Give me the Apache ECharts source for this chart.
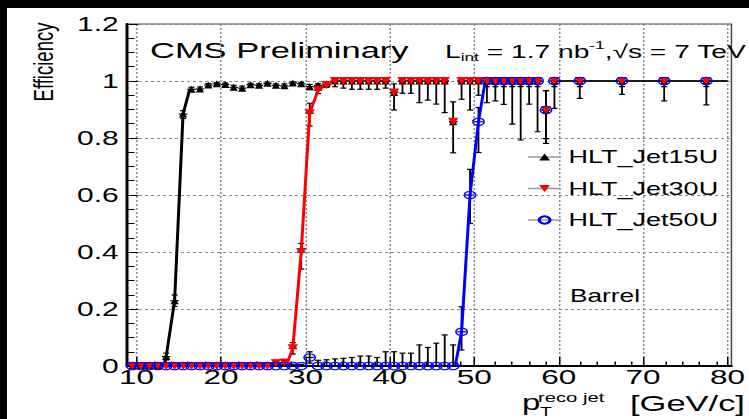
<!DOCTYPE html>
<html>
<head>
<meta charset="utf-8">
<script src="https://cdn.jsdelivr.net/npm/echarts@6/dist/echarts.min.js"></script>
<style>
  html, body { margin: 0; padding: 0; width: 749px; height: 419px; overflow: hidden; background: #000; }
  #chart { position: absolute; left: 7px; top: 8px; height: 411px; background: #fff; transform-origin: 0 0; }
</style>
</head>
<body>
<div id="chart"></div>
<script>
// Bin centres in GeV/c (1 GeV bins up to 60, then 5 GeV bins)
const ptBins = [9.5,10.5,11.5,12.5,13.5,14.5,15.5,16.5,17.5,18.5,19.5,20.5,21.5,22.5,23.5,24.5,25.5,26.5,27.5,28.5,29.5,30.5,31.5,32.5,33.5,34.5,35.5,36.5,37.5,38.5,39.5,40.5,41.5,42.5,43.5,44.5,45.5,46.5,47.5,48.5,49.5,50.5,51.5,52.5,53.5,54.5,55.5,56.5,57.5,58.5,59.5,62.5,67.5,72.5,77.5];
const binHalfWidth = [0.5,0.5,0.5,0.5,0.5,0.5,0.5,0.5,0.5,0.5,0.5,0.5,0.5,0.5,0.5,0.5,0.5,0.5,0.5,0.5,0.5,0.5,0.5,0.5,0.5,0.5,0.5,0.5,0.5,0.5,0.5,0.5,0.5,0.5,0.5,0.5,0.5,0.5,0.5,0.5,0.5,0.5,0.5,0.5,0.5,0.5,0.5,0.5,0.5,0.5,0.5,2.5,2.5,2.5,2.5];

// HLT_Jet15U efficiency and asymmetric errors
const eff15 = [0,0,0,0,0.033,0.229,0.884,0.971,0.972,0.986,0.99,0.988,0.978,0.975,0.987,0.985,0.992,0.985,0.983,0.993,0.99,0.98,0.985,0.99,1,1,1,1,1,1,1,0.96,1,1,1,1,1,1,0.857,1,1,1,1,1,1,1,1,1,1,0.898,1,1,1,1,1];
const errLo15 = [0,0,0,0,0.012,0.02,0.015,0.008,0.008,0.006,0.005,0.006,0.008,0.008,0.006,0.006,0.005,0.006,0.008,0.006,0.007,0.01,0.008,0.007,0.006,0.006,0.006,0.006,0.006,0.006,0.006,0.006,0.006,0.006,0.006,0.006,0.006,0.006,0.006,0.006,0.006,0.006,0.006,0.006,0.006,0.006,0.006,0.006,0.006,0.006,0.006,0.006,0.006,0.006,0.006];
const errHi15 = [0.004,0.004,0.004,0.004,0.012,0.02,0.012,0.007,0.007,0.005,0.004,0.005,0.007,0.007,0.005,0.005,0.004,0.005,0.007,0.004,0.005,0.008,0.006,0.005,0,0,0,0,0,0,0,0,0,0,0,0,0,0,0,0,0,0,0,0,0,0,0,0,0,0,0,0,0,0,0];

// HLT_Jet30U efficiency and asymmetric errors
const eff30 = [0,0,0,0,0,0,0,0,0,0,0,0,0,0,0,0,0,0.01,0.012,0.062,0.40,0.887,0.968,0.986,1,1,1,1,1,1,1,0.96,1,1,1,1,1,1,0.857,1,1,1,1,1,1,1,1,1,1,0.898,1,1,1,1,1];
const errLo30 = [0,0,0,0,0,0,0,0,0,0,0,0,0,0,0,0,0,0.008,0.008,0.02,0.06,0.045,0.012,0.008,0.02,0.025,0.029,0.029,0.029,0.029,0.025,0.062,0.043,0.043,0.076,0.067,0.081,0.111,0.109,0.064,0.102,0.05,0.076,0.07,0.082,0.151,0.207,0.081,0.178,0.117,0.096,0.061,0.047,0.07,0.084];
const errHi30 = [0.004,0.004,0.004,0.004,0.004,0.004,0.004,0.004,0.004,0.004,0.004,0.004,0.004,0.004,0.004,0.004,0.004,0.01,0.01,0.02,0.03,0.035,0.011,0.008,0,0,0,0,0,0,0,0.03,0,0,0,0,0,0,0.07,0,0,0,0,0,0,0,0,0,0,0.068,0,0,0,0,0];

// HLT_Jet50U efficiency and asymmetric errors
const eff50 = [0,0,0,0,0,0,0,0,0,0,0,0,0,0,0,0,0,0,0,0,0,0.03,0,0,0,0,0,0,0,0,0,0,0,0,0,0,0,0,0,0.12,0.60,0.857,1,1,1,1,1,1,1,0.898,1,1,1,1,1];
const errLo50 = [0,0,0,0,0,0,0,0,0,0,0,0,0,0,0,0,0,0,0,0,0,0.02,0,0,0,0,0,0,0,0,0,0,0,0,0,0,0,0,0,0.064,0.10,0.108,0.02,0.02,0.02,0.02,0.02,0.02,0.02,0.1,0.02,0.02,0.02,0.02,0.02];
const errHi50 = [0.006,0.006,0.006,0.006,0.006,0.006,0.006,0.006,0.006,0.006,0.006,0.006,0.006,0.006,0.006,0.006,0.006,0.006,0.006,0.006,0.006,0.02,0.02,0.022,0.025,0.027,0.03,0.035,0.035,0.03,0.05,0.05,0.045,0.045,0.074,0.065,0.08,0.109,0.074,0.088,0.09,0.05,0,0,0,0,0,0,0,0.068,0,0,0,0,0];

// Turn-on fit curves (vertices of the drawn curves)
const fit15X = [13.25, 13.5, 14.5, 15.5, 16.3];
const fit15Y = [0.0, 0.033, 0.229, 0.884, 0.972];
const fit30X = [27.9, 28.5, 29.5, 30.5, 31.5, 32.5, 33.2];
const fit30Y = [0.015, 0.062, 0.40, 0.887, 0.968, 0.986, 1.0];
const fit50X = [47.75, 48.5, 49.5, 50.5, 51.3];
const fit50Y = [0.0, 0.12, 0.60, 0.857, 1.0];

// Axis ticks
const xMajorTicks = [10, 20, 30, 40, 50, 60, 70, 80];
const xMinorTicks = [12,14,16,18,22,24,26,28,32,34,36,38,42,44,46,48,52,54,56,58,62,64,66,68,72,74,76,78];
const X_MIN = 8.86, X_MAX = 80.47;

// The canvas is drawn narrow and stretched horizontally, like the original ROOT output.
const SX = 1.5, OX = 7, OY = 8, PAGE_W = 749, PAGE_H = 419;
const innerW = (PAGE_W - OX) / SX, innerH = PAGE_H - OY;
const px = x => (x - OX) / SX;
const py = y => y - OY;

const el = document.getElementById('chart');
el.style.width = innerW + 'px';
el.style.transform = 'scaleX(' + SX + ')';

const FONT = "'Liberation Sans', Arial, Helvetica, sans-serif";

function errorBarItem(params, api) {
  const x = api.value(0), y = api.value(1), lo = api.value(2), hi = api.value(3), hw = api.value(4);
  const mid = api.coord([x, y]);
  const style = { stroke: '#000', lineWidth: 1.2 };
  const cap = 2;
  const kids = [];
  const l = api.coord([x - hw, y]), r = api.coord([x + hw, y]);
  kids.push({ type: 'line', shape: { x1: l[0], y1: mid[1], x2: r[0], y2: mid[1] }, style });
  if (lo > 0) {
    const b = api.coord([x, y - lo]);
    kids.push({ type: 'line', shape: { x1: mid[0], y1: mid[1], x2: mid[0], y2: b[1] }, style });
    kids.push({ type: 'line', shape: { x1: mid[0] - cap, y1: b[1], x2: mid[0] + cap, y2: b[1] }, style });
  }
  if (hi > 0) {
    const t = api.coord([x, y + hi]);
    kids.push({ type: 'line', shape: { x1: mid[0], y1: mid[1], x2: mid[0], y2: t[1] }, style });
    kids.push({ type: 'line', shape: { x1: mid[0] - cap, y1: t[1], x2: mid[0] + cap, y2: t[1] }, style });
  }
  return { type: 'group', children: kids };
}

function errSeries(eff, lo, hi) {
  return {
    type: 'custom', silent: true, xAxisIndex: 0, yAxisIndex: 0,
    renderItem: errorBarItem,
    encode: { x: 0, y: 1 },
    data: ptBins.map((p, i) => [p, eff[i], lo[i], hi[i], binHalfWidth[i]])
  };
}

function markerSeries(name, eff, symbol, size, itemStyle) {
  return {
    name, type: 'line', silent: true, xAxisIndex: 0, yAxisIndex: 0,
    data: ptBins.map((p, i) => [p, eff[i]]),
    symbol, symbolSize: size, showSymbol: true,
    lineStyle: { opacity: 0 },
    itemStyle
  };
}

function fitSeries(name, xs, ys, color) {
  return {
    name, type: 'line', silent: true, xAxisIndex: 0, yAxisIndex: 0,
    data: xs.map((x, i) => [x, ys[i]]),
    symbol: 'none', showSymbol: false,
    lineStyle: { color, width: 2 }
  };
}

const gridRect = {
  left: px(127), right: innerW - px(737), top: py(24), bottom: innerH - py(366)
};

const chart = echarts.init(el, null, { renderer: 'svg' });
chart.setOption({
  animation: false,
  backgroundColor: 'transparent',
  textStyle: { fontFamily: FONT },
  grid: [
    Object.assign({ show: true, borderColor: '#444', borderWidth: 1, backgroundColor: 'transparent' }, gridRect),
    Object.assign({ show: false }, gridRect)
  ],
  xAxis: [
    {
      type: 'value', gridIndex: 0, min: X_MIN, max: X_MAX, position: 'bottom',
      axisLine: { show: true, onZero: false, lineStyle: { color: '#000', width: 2 } },
      axisTick: { show: true, inside: true, length: 9, customValues: xMajorTicks, lineStyle: { color: '#000', width: 1 } },
      minorTick: { show: false },
      axisLabel: { customValues: xMajorTicks, fontSize: 21, lineHeight: 16, color: '#000', margin: 3, fontFamily: FONT },
      splitLine: { show: true, lineStyle: { color: '#888', width: 1, type: [2, 2] } }
    },
    {
      type: 'value', gridIndex: 1, min: X_MIN, max: X_MAX, position: 'bottom',
      axisLine: { show: false },
      axisTick: { show: true, inside: true, length: 4.5, customValues: xMinorTicks, lineStyle: { color: '#000', width: 1 } },
      axisLabel: { show: false },
      splitLine: { show: false }
    }
  ],
  yAxis: [
    {
      type: 'value', gridIndex: 0, min: 0, max: 1.2, interval: 0.2,
      axisLine: { show: true, onZero: false, lineStyle: { color: '#000', width: 2 } },
      axisTick: { show: true, inside: true, length: 7.5, lineStyle: { color: '#000', width: 1 } },
      minorTick: { show: true, splitNumber: 4, length: 5, lineStyle: { color: '#000', width: 1 } },
      axisLabel: { fontSize: 20, color: '#000', margin: 5.5, fontFamily: FONT },
      splitLine: { show: true, lineStyle: { color: '#888', width: 1, type: [2, 2] } }
    },
    { type: 'value', gridIndex: 1, min: 0, max: 1.2, show: false }
  ],
  legend: {
    orient: 'vertical', left: px(527), top: py(157) - 9, padding: 0,
    itemWidth: 22, itemHeight: 9, itemGap: 13.5, selectedMode: false,
    textStyle: { fontSize: 18, lineHeight: 18, color: '#000', fontFamily: FONT },
    lineStyle: { color: '#999', width: 1.5, opacity: 1, type: 'solid' },
    data: ['HLT_Jet15U', 'HLT_Jet30U', 'HLT_Jet50U']
  },
  graphic: [
    { type: 'text', x: px(150), y: py(50), silent: true,
      style: { text: 'CMS Preliminary', fontSize: 23, fill: '#000', fontFamily: FONT, align: 'left', verticalAlign: 'middle' } },
    { type: 'text', x: px(445), y: py(51), silent: true,
      style: {
        text: '{m|L}{s|int}{m| = 1.7 nb}{u|-1}{m|,√s = 7 TeV}',
        align: 'left', verticalAlign: 'middle', fill: '#000', fontFamily: FONT,
        rich: {
          m: { fontSize: 18.8, lineHeight: 24, fontFamily: FONT, fill: '#000' },
          s: { fontSize: 11.5, lineHeight: 11, verticalAlign: 'bottom', fontFamily: FONT, fill: '#000' },
          u: { fontSize: 11.5, lineHeight: 11, verticalAlign: 'top', fontFamily: FONT, fill: '#000' }
        }
      } },
    { type: 'text', x: px(44), y: py(62), rotation: Math.PI / 2, silent: true,
      style: { text: 'Efficiency', fontSize: 18.5, fill: '#000', fontFamily: FONT, align: 'center', verticalAlign: 'middle' } },
    { type: 'text', x: px(570), y: py(296), silent: true,
      style: { text: 'Barrel', fontSize: 17.5, fill: '#000', fontFamily: FONT, align: 'left', verticalAlign: 'middle' } },
    { type: 'text', x: px(522), y: py(403), silent: true,
      style: { text: 'p', fontSize: 22, fill: '#000', fontFamily: FONT, align: 'left', verticalAlign: 'middle' } },
    { type: 'text', x: px(538), y: py(397), silent: true,
      style: { text: 'reco jet', fontSize: 13.5, lineHeight: 11, fill: '#000', fontFamily: FONT, align: 'left', verticalAlign: 'middle' } },
    { type: 'text', x: px(540), y: py(412), silent: true,
      style: { text: 'T', fontSize: 13, lineHeight: 11, fill: '#000', fontFamily: FONT, align: 'left', verticalAlign: 'middle' } },
    { type: 'text', x: px(630), y: py(403), silent: true,
      style: { text: '[GeV/c]', fontSize: 23, fill: '#000', fontFamily: FONT, align: 'left', verticalAlign: 'middle' } }
  ],
  series: [
    errSeries(eff15, errLo15, errHi15),
    markerSeries('HLT_Jet15U', eff15, 'triangle', [5.5, 7], { color: '#000' }),
    fitSeries('fit15', fit15X, fit15Y, '#000'),
    errSeries(eff30, errLo30, errHi30),
    markerSeries('HLT_Jet30U', eff30, 'path://M0,0L10,0L5,9Z', [7, 8], { color: '#ff0000' }),
    fitSeries('fit30', fit30X, fit30Y, '#ff0000'),
    errSeries(eff50, errLo50, errHi50),
    markerSeries('HLT_Jet50U', eff50, 'circle', [7.5, 7.5], { color: 'transparent', borderColor: '#0000ff', borderWidth: 1 }),
    fitSeries('fit50', fit50X, fit50Y, '#0000ff')
  ]
});
</script>
</body>
</html>
